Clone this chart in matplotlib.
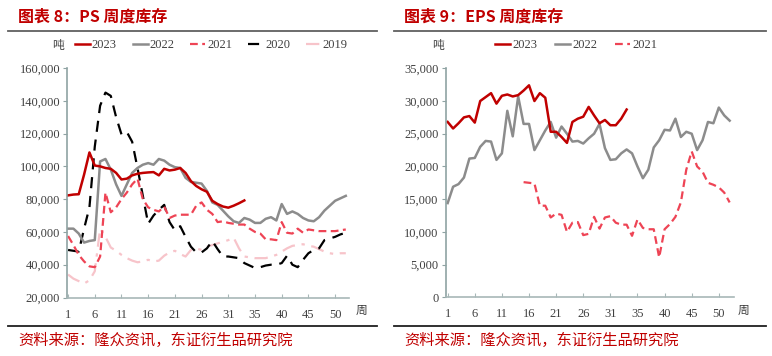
import numpy as np
import matplotlib.pyplot as plt
from matplotlib.lines import Line2D
from matplotlib.ticker import FuncFormatter

plt.rcParams['font.family'] = ['Liberation Serif', 'Noto Sans CJK SC']

# week index 0..52 (labels 1..53)
weeks = np.arange(53)
tick_pos = [0, 5, 10, 15, 20, 25, 30, 35, 40, 45, 50]
tick_lab = ['1', '6', '11', '16', '21', '26', '31', '35', '40', '45', '50']

# PS weekly inventory (tons)
ps_2023 = [82300, 82800, 83000, 95000, 108500, 100500, 100000, 99000, 98500, 96000,
           92000, 92500, 94500, 95500, 96000, 96300, 96500, 94500, 98500, 97500,
           98000, 99000, 96000, 91000, 88000, 86000, 84500, 79000, 77000, 75500,
           74800, 76000, 77500, 79200]
ps_2022 = [62000, 62000, 59000, 53500, 54500, 55000, 103000, 104500, 98000, 89000,
           82000, 89000, 96000, 99000, 101000, 102000, 101000, 104500, 103500, 101000,
           99500, 99000, 93000, 90500, 90000, 89500, 85000, 78000, 76500, 73000,
           69500, 66500, 65500, 68500, 67500, 65500, 65500, 68000, 69000, 67000,
           77000, 71000, 72500, 71000, 68500, 67000, 66500, 69000, 73000, 76000,
           79000, 80500, 82000]
ps_2021 = [57500, 52000, 46000, 42000, 39000, 38500, 45000, 84000, 72000, 75000,
           80000, 84000, 89000, 92500, 80000, 75000, 73500, 72500, 75500, 68500,
           70000, 70500, 70500, 70500, 76000, 78000, 73500, 71000, 66000, 66500,
           65500, 65000, 64500, 64500, 62000, 60000, 59000, 55500, 55500, 55000,
           66000, 59500, 59000, 62000, 59500, 61500, 61000, 60500, 60500, 60500,
           60500, 61000, 61500]
ps_2020 = [49000, 48500, 48000, 62000, 75000, 112000, 137000, 145000, 143000, 130000,
           119500, 121000, 115000, 99000, 82000, 65000, 70000, 73500, 76500, 66000,
           61000, 63500, 57000, 51000, 47500, 47500, 50000, 54500, 49500, 45000,
           45000, 44500, 44000, 41000, 39500, 38000, 38500, 39500, 40000, 40000,
           41000, 45500, 40000, 38500, 43000, 47000, 49000, 50000, 55000, 56000,
           57000, 58500, 59500]
ps_2019 = [34000, 31500, 30000, 28500, 30500, 36000, 62000, 57000, 50500, 48500,
           46000, 44000, 42500, 41500, 42000, 43000, 42000, 42500, 45500, 47500,
           48500, 46500, 45000, 49000, 50000, 49000, 51000, 52000, 53000, 54000,
           55000, 56500, 50000, 45000, 44500, 44000, 44000, 44000, 45000, 46000,
           48000, 50000, 51500, 52000, 52500, 51500, 51000, 49500, 48000, 47000,
           46500, 47000, 47000]

# EPS weekly inventory (tons)
eps_2023 = [26800, 25800, 26600, 27500, 27700, 26700, 30000, 30600, 31200, 29600,
            30800, 31000, 30700, 30900, 31600, 32400, 30000, 31200, 30500, 25300,
            25300, 24500, 23600, 26800, 27300, 27600, 29100, 27800, 26600, 27100,
            26300, 26300, 27300, 28700]
eps_2022 = [14400, 16900, 17300, 18300, 21200, 21300, 23000, 23900, 23800, 21000,
            22000, 28500, 24600, 30700, 26500, 26500, 22500, 24000, 25500, 26800,
            24400, 26100, 25000, 23800, 23900, 23500, 24300, 25000, 26500, 22800,
            21000, 21100, 22000, 22600, 22000, 20000, 18200, 19500, 22900, 24000,
            25600, 25500, 27300, 24500, 25300, 25000, 22500, 24000, 26800, 26600,
            29000, 27800, 27000]
eps_2021 = [np.nan] * 14 + [
            17600, 17500, 17400, 14000, 14000, 12200, 12800, 12600, 10000, 11400,
            11500, 9500, 9700, 12300, 10500, 12200, 12400, 11400, 11100, 11100,
            9400, 11900, 10600, 10400, 10400, 6100, 10400, 11200, 12300, 14500,
            19500, 22300, 20000, 19200, 17500, 17200, 16800, 16000, 14500]

RED = '#C00000'
GREY = '#8C8C8C'
PINKRED = '#EE4455'
LIGHTPINK = '#F7C4CA'
TXT = '#404040'

W, H = 772, 356
fig = plt.figure(figsize=(W / 100, H / 100), dpi=100)


def fx(px):
    return px / W


def fy(py):
    return 1 - py / H


def style_axes(ax):
    for s in ['top', 'right']:
        ax.spines[s].set_visible(False)
    ax.spines['left'].set_color('#8FA3A3')
    ax.spines['bottom'].set_color('#A8B8B8')
    ax.spines['left'].set_linewidth(1.2)
    ax.spines['bottom'].set_linewidth(1.2)
    ax.set_xticks(tick_pos)
    ax.set_xticklabels(tick_lab)
    ax.tick_params(axis='x', direction='in', length=3, color='#A8B8B8',
                   labelsize=9, labelcolor=TXT, pad=8)
    ax.tick_params(axis='y', direction='out', length=3, color='#8FA3A3',
                   labelsize=9, labelcolor=TXT, pad=2)
    ax.yaxis.set_major_formatter(FuncFormatter(lambda v, p: f"{v:,.0f}"))


# ---- left: PS ----
ax1 = fig.add_axes([fx(67), fy(297.5), fx(349 - 67), (297.5 - 68) / H])
ax1.plot(weeks[:len(ps_2019)], ps_2019, color=LIGHTPINK, lw=1.6,
         dashes=(6, 3, 1.5, 3), label='2019')
ax1.plot(weeks[:len(ps_2020)], ps_2020, color='black', lw=1.6,
         dashes=(5, 3.5), label='2020')
ax1.plot(weeks[:len(ps_2021)], ps_2021, color=PINKRED, lw=1.6,
         dashes=(3.5, 2), label='2021')
ax1.plot(weeks[:len(ps_2022)], ps_2022, color=GREY, lw=1.8, label='2022')
ax1.plot(weeks[:len(ps_2023)], ps_2023, color=RED, lw=1.8, label='2023')
ax1.set_xlim(-0.2, 52.6)
ax1.set_ylim(20000, 160000)
ax1.set_yticks(np.arange(20000, 160001, 20000))
style_axes(ax1)
h, l = ax1.get_legend_handles_labels()
ax1.legend(h[::-1], l[::-1], ncol=5, frameon=False, loc='center left',
           bbox_to_anchor=(0.01, 1.1), fontsize=9, handlelength=1.2,
           handletextpad=0.15, columnspacing=1.27, borderaxespad=0,
           labelcolor=TXT)

# ---- right: EPS ----
ax2 = fig.add_axes([fx(445.5), fy(297.3), fx(734 - 445.5), (297.3 - 68.3) / H])
ax2.plot(weeks[:len(eps_2021)], eps_2021, color=PINKRED, lw=1.6,
         dashes=(3.5, 2), label='2021')
ax2.plot(weeks[:len(eps_2022)], eps_2022, color=GREY, lw=1.8, label='2022')
ax2.plot(weeks[:len(eps_2023)], eps_2023, color=RED, lw=1.8, label='2023')
ax2.set_xlim(-0.4, 52.8)
ax2.set_ylim(0, 35000)
ax2.set_yticks(np.arange(0, 35001, 5000))
style_axes(ax2)
h, l = ax2.get_legend_handles_labels()
ax2.legend(h[::-1], l[::-1], ncol=3, frameon=False, loc='center left',
           bbox_to_anchor=(0.155, 1.1), fontsize=9, handlelength=1.2,
           handletextpad=0.15, columnspacing=1.45, borderaxespad=0,
           labelcolor=TXT)

# titles, units, frame lines, source
cjk = ['Noto Sans CJK SC', 'DejaVu Sans']
for x0, x1, title in [(8, 377, '图表 8：PS 周度库存'), (394, 766, '图表 9：EPS 周度库存')]:
    fig.text(fx(x0 + 10), fy(17), title, color=RED, fontsize=11.5,
             fontweight='bold', va='center', ha='left', family=cjk)
    fig.add_artist(Line2D([fx(x0), fx(x1)], [fy(31), fy(31)], color='#606060', lw=1.3))
    fig.add_artist(Line2D([fx(x0), fx(x1)], [fy(326), fy(326)], color='#202020', lw=1.3))
    fig.text(fx(x0 + 10), fy(340), '资料来源：隆众资讯，东证衍生品研究院', color=RED,
             fontsize=11, va='center', ha='left', family=cjk)

fig.text(fx(58), fy(45), '吨', fontsize=8.5, color=TXT, ha='center', va='center', family=cjk)
fig.text(fx(438), fy(45), '吨', fontsize=8.5, color=TXT, ha='center', va='center', family=cjk)
fig.text(fx(362), fy(310), '周', fontsize=8.5, color=TXT, ha='center', va='center', family=cjk)
fig.text(fx(744), fy(310), '周', fontsize=8.5, color=TXT, ha='center', va='center', family=cjk)

fig.savefig('out.png', dpi=100)
